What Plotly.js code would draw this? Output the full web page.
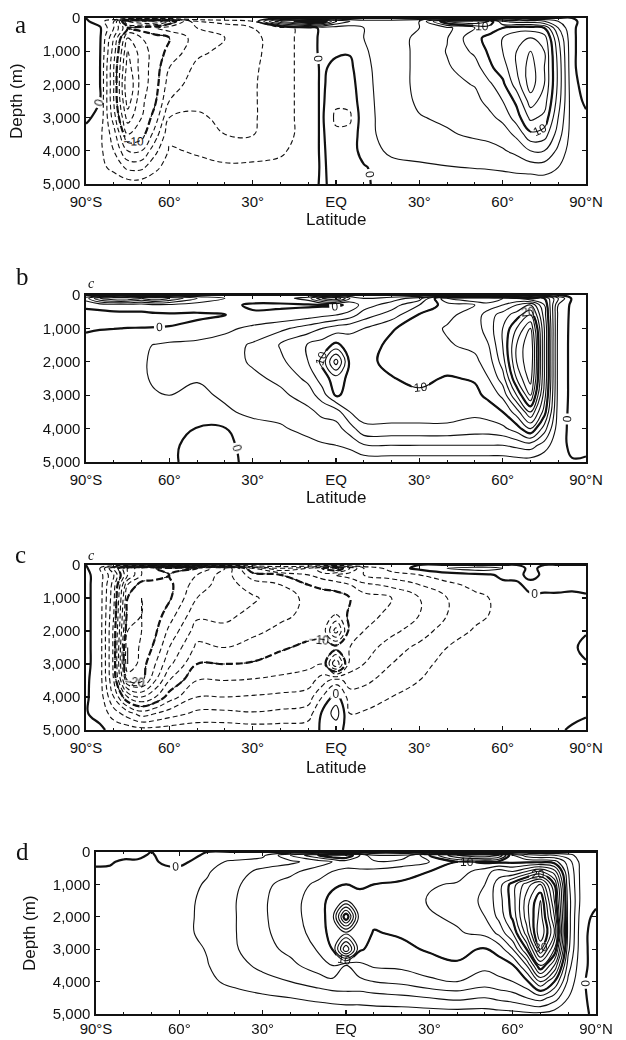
<!DOCTYPE html>
<html><head><meta charset="utf-8">
<script src="https://cdn.plot.ly/plotly-3.0.1.min.js"></script>
<style>
html,body{margin:0;padding:0;background:#fff}
#chart{width:626px;height:1040px}
#chart .contourlabels{opacity:0.99}
#chart .contourlabels text{fill:#111 !important;opacity:0.99}
</style>
</head><body><div id="chart"></div>
<script>
// Axes values
const latitudes = [-90,-85,-80,-75,-70,-65,-60,-50,-40,-30,-20,-10,-5,0,5,10,20,30,40,50,55,60,65,70,75,80,85,90];
const depths = [0,100,300,600,1000,1500,2000,2500,3000,3500,4000,4500,5000];
const latTickVals = [-90,-60,-30,0,30,60,90];
const latTickText = ['90°S','60°','30°','EQ','30°','60°','90°N'];
const depthTickVals = [0,1000,2000,3000,4000,5000];
const depthTickText = ['0','1,000','2,000','3,000','4,000','5,000'];
const panelLetters = ['a','b','c','d'];

// Streamfunction (Sv), one column per latitude, values down the depth list
const psiA = [
 [0,0.3,0.8,0.8,0.8,0.8,0.8,0.6,0.3,-0.5,-0.8,-0.8,-0.3],
 [0,-1,0.3,0.3,0.2,0.1,0.1,0,-0.5,-1.5,-1.5,-1.5,-0.5],
 [0,-4,-4,-6,-7,-8,-8,-8,-7,-5,-4,-2.5,-0.8],
 [0,-14,-10,-14,-16,-17,-18,-17,-15,-12,-8,-4.5,-1],
 [0,-16,-9,-12,-13,-13,-13,-12.5,-12,-11,-8,-4.5,-1],
 [0,-16,-8,-11,-11,-11,-10.8,-10.2,-9,-7,-4.5,-2.5,-0.6],
 [0,-12,-7,-10,-9.5,-8,-7,-6,-4,-2.5,-1.8,-1,-0.3],
 [0,-4,-6,-7,-6.5,-5.5,-5,-4.5,-3.7,-2.5,-2.2,-1.5,-0.4],
 [0,-3,-5.5,-6,-5.5,-5,-4.8,-4.6,-4.4,-4,-2.5,-1.8,-0.4],
 [0,-2,-4,-4.5,-4.5,-4.3,-4.2,-4.2,-4.2,-4.1,-2.6,-1.7,-0.4],
 [0,8,-3,-3,-3,-3,-3,-3,-3,-3,-2.3,-1.5,-0.4],
 [0,12,-1,-1,-1,-1,-1,-1,-1,-1,-1,-0.8,-0.3],
 [0,12,0.5,0.5,0.5,0.3,0.3,0.3,0.3,0.3,0.3,0.2,0.1],
 [0,6,1,0.5,0.3,-0.5,-1,-1.5,-2.5,-1.5,-1,-0.5,-0.2],
 [0,4,1,0.5,0.2,-0.5,-1,-1.5,-2.3,-1.5,-1,-0.8,-0.3],
 [0,3,2,2,1.8,1.6,1.5,1.4,1.3,1.2,0.8,-0.2,-0.1],
 [0,3,3,3,3,3,3,3,3,3,2.5,1.2,0.3],
 [0,4,4,4.5,4.5,4.5,4.5,4.3,3.9,3.5,2.8,1.6,0.4],
 [0,12,5.5,5.9,6.1,5.8,5.5,5,4.3,3.8,3,1.9,0.5],
 [0,14,8,9.5,8.5,7,6.1,5.5,5,4.3,3.2,2.1,0.5],
 [0,12,9,10.5,10.3,9.5,7.5,6.5,5.5,4.5,3.4,2.2,0.6],
 [0,6,10,12,12,11,9.5,8,6.5,5,3.8,2.4,0.6],
 [0,5,11,13.5,14,14,13,10.5,9,6.5,4.5,2.7,0.7],
 [0,5,11,14,16,17,17,15,12.5,9.5,6,3,0.5],
 [0,4,10,13,14,14,14,13,11.5,9,6,3,0.8],
 [0,2,4,6,7,7.5,7.5,7,6,5,3.5,2,0.5],
 [0,0.3,0.3,0.3,0.3,0.3,0.5,0.8,1,1,0.8,0.5,0.2],
 [0,-0.5,-0.8,-0.8,-0.8,-0.8,-0.6,-0.3,0.3,0.5,0.4,0.3,0.1]
];
const psiB = [
 [0,3,0.5,-0.8,-0.1,0.3,0.3,0.3,0.3,0.3,0.3,0.2,0.1],
 [0,8,0.8,-0.8,-0.05,0.5,0.5,0.5,0.5,0.5,0.4,0.3,0.1],
 [0,10,1,-0.6,-0.02,0.8,0.8,0.8,0.8,0.7,0.5,0.3,0.1],
 [0,10,1,-0.5,0.02,1.2,1.2,1.2,1.1,0.9,0.6,0.3,0.1],
 [0,8,1,-0.5,0.03,1.7,1.8,1.8,1.6,1.2,0.8,0.4,0.1],
 [0,10,1.5,-0.4,0.04,2.1,2.3,2.2,1.9,1.4,0.9,0.4,0.1],
 [0,8,1.5,-0.3,0.06,2.4,2.6,2.4,2,1.5,0.9,0.3,0.1],
 [0,4,1,-0.3,0.5,2.6,2.6,2.1,1.7,1.2,-0.1,-0.5,-0.2],
 [0,2,0.5,-0.05,1.5,3,3,2.6,2.2,1.8,-0.1,-0.5,-0.2],
 [0,1,-0.3,0.3,2.5,4.3,4.3,3.5,2.8,2.3,1.5,0.8,0.2],
 [0,1,-0.3,0.5,3.5,6.2,5.5,4.5,3.5,2.5,1.8,1,0.3],
 [0,3,-0.3,1,5,8.2,8,6.5,5,3.5,2.5,1.5,0.4],
 [0,8,-0.3,1.5,6,9,10.5,9,7,4.5,3,1.8,0.5],
 [0,10,-0.3,2,7,10.5,17,11,10.3,5,3.2,2,0.5],
 [0,4,0.3,3,7.5,9,9.5,9.5,9.3,8,5,2.5,0.5],
 [0,2,3,5,8,9,9.5,9.5,9.3,9,7.5,3.8,0.8],
 [0,3,5,7,9.8,10.5,10.5,9.9,9.5,9,7.5,4,0.8],
 [0,5,8,10.2,11,11.5,11.5,10.5,9.6,9,7.5,4,0.8],
 [0,14,11,11.5,12.2,11.8,11,9.8,9.4,9,7.5,4,0.8],
 [0,16,12,13,13,12.5,11.5,10.2,9.5,8.5,7,4,0.8],
 [0,16,13,15,15,14,13,12,10.5,9,7,4,0.8],
 [0,14,14,17,18,18,17,15,12.5,10,7.5,4,0.8],
 [0,12,16,19,22,24,24,22,18,13,9,4.5,1],
 [0,10,18,22,26,28,28,27,24,18,12,5,1],
 [0,10,12,13,14,14,14,14,13,11,7,3,0.5],
 [0,4,2,1.5,1.3,1.2,1.2,1.2,1.2,1,0.8,0.5,0.2],
 [0,-0.3,-0.5,-0.5,-0.5,-0.5,-0.5,-0.5,-0.5,-0.5,-0.5,-0.3,0.1],
 [0,-0.2,-0.3,-0.3,-0.3,-0.3,-0.3,-0.3,-0.3,-0.3,-0.3,-0.2,0.1]
];
const psiC = [
 [0,0.3,0.5,0.5,0.5,0.5,0.5,0.5,0.5,0.3,0.2,0.1,0.5],
 [0,-2,-1,-1,-1,-1,-1,-1,-1,-1,-0.8,-0.5,0.3],
 [0,-8,-6,-7,-7.5,-8,-8.5,-8.5,-8.5,-8,-6,-3,-0.5],
 [0,-14,-14,-18,-20,-21,-22,-24,-24,-20,-12,-5,-0.8],
 [0,-18,-18,-21,-22,-22,-22,-21.5,-21,-20.5,-14,-7,-1.2],
 [0,-20,-19,-21,-21.5,-21,-20.3,-19.5,-18,-16,-12,-6,-1.2],
 [0,-22,-20,-20.5,-20.3,-19,-17.5,-16,-14.5,-12,-9,-5,-1],
 [0,-20,-18,-17,-16,-14.5,-13,-11.5,-10,-8,-6,-3.5,-0.8],
 [0,-16,-15,-15,-15,-14.5,-13.5,-12,-10,-8,-6,-3.5,-0.8],
 [0,-8,-11,-13,-14.3,-13.5,-12.5,-11.2,-9.8,-7.8,-5.8,-3.8,-1],
 [0,-4,-10,-12,-13,-12.5,-11.5,-10.3,-9,-7.5,-5.5,-3.5,-1],
 [0,-6,-8,-10,-11.5,-11.5,-10.8,-9.5,-8.5,-7,-5,-3,-0.8],
 [0,-10,-7,-9.5,-11,-11,-10.5,-9.5,-8,-5,-2,0.3,0.2],
 [0,-12,-6,-9,-11,-12,-17,-9,-16,-3,1,3,0.5],
 [0,-8,-5,-8,-10,-9.5,-9,-8,-7,-5,-3,-2,-0.5],
 [0,-4,-4,-6.5,-9,-8.8,-8,-7,-6,-4.5,-3,-1.8,-0.5],
 [0,-1,-3,-5.5,-8,-7.5,-6.5,-5,-4,-3,-2,-1.5,-0.3],
 [0,0.5,-2,-4,-6,-6,-5,-3.5,-2.5,-2,-1.5,-1,-0.2],
 [0,2,-1,-2.5,-4,-4,-3,-2,-1.5,-1.2,-1,-0.8,-0.2],
 [0,3,-0.5,-1.5,-2.5,-2.5,-1.8,-1.2,-1,-0.8,-0.6,-0.5,-0.1],
 [0,3,-0.3,-1,-2,-2,-1.5,-1,-0.8,-0.6,-0.5,-0.4,-0.1],
 [0,2,0.5,-0.5,-1.5,-1.2,-0.8,-0.6,-0.5,-0.5,-0.4,-0.3,-0.1],
 [0,0.5,0.5,-0.3,-0.8,-0.6,-0.5,-0.4,-0.3,-0.3,-0.3,-0.2,-0.1],
 [0,-0.3,-0.5,0.5,-0.3,-0.3,-0.3,-0.3,-0.2,-0.2,-0.2,-0.2,-0.1],
 [0,0.3,0.3,0.3,-0.2,-0.2,-0.2,-0.2,-0.2,-0.2,-0.2,-0.2,-0.1],
 [0,0.3,0.3,0.3,-0.2,-0.2,-0.2,-0.2,-0.2,-0.2,-0.2,-0.2,-0.1],
 [0,0.2,0.2,0.2,-0.2,-0.2,-0.2,-0.2,-0.2,-0.2,-0.2,-0.2,0.1],
 [0,0.2,0.2,0.2,-0.1,-0.1,-0.1,0.3,-0.1,-0.1,-0.1,-0.1,0.3]
];
const psiD = [
 [0,-0.3,-0.2,0.2,0.2,0.2,0.2,0.2,0.2,0.2,0.2,0.1,0.05],
 [0,-0.5,-0.2,0.3,0.3,0.3,0.3,0.3,0.3,0.3,0.3,0.2,0.1],
 [0,-0.5,0.3,0.5,0.5,0.5,0.5,0.5,0.5,0.5,0.4,0.3,0.1],
 [0,-0.5,0.3,0.6,0.6,0.6,0.6,0.6,0.6,0.6,0.5,0.3,0.1],
 [0,0.3,0.5,0.7,0.8,0.8,0.8,0.8,0.8,0.7,0.6,0.4,0.1],
 [0,-1,-0.5,0.8,1,1,1,1,1,0.9,0.7,0.4,0.1],
 [0,-1.5,-0.8,0.9,1.2,1.3,1.3,1.3,1.2,1.1,0.8,0.5,0.1],
 [0,0.5,1.5,1.8,2.2,2.5,2.6,2.6,2.1,1.9,1.6,0.8,0.2],
 [0,1,2.3,3.2,3.6,3.9,3.9,3.9,3.8,3.3,2.5,1.2,0.3],
 [0,1.5,3,4.5,5.5,5.7,5.7,5.6,5.3,4.5,3.3,1.6,0.4],
 [0,6,3.5,5.5,6.8,7.3,7.3,7,6.5,5.5,4,2,0.5],
 [0,10,5,7,8.5,9,9,8.8,8.2,7,5,2.5,0.6],
 [0,12,6,8,9.5,10.8,11,10.8,10,8,5.5,2.8,0.6],
 [0,12,7,8.5,10,12,22,11.5,20,6,5.5,3,0.7],
 [0,8,6.5,8.5,9.8,10.5,10.8,10.8,10.3,7.5,5.5,3,0.7],
 [0,4,6.5,8.5,10,10.4,10.4,9.9,9.3,8.3,6,3.2,0.8],
 [0,4,7,9,10.4,10.6,10.5,10.2,9.6,8.5,6.5,3.5,0.8],
 [0,10,8,10,11.8,12.2,11.8,11,10.2,9.3,7.5,4,0.9],
 [0,16,10,11,12.2,12.5,12.3,11.8,10.5,9.8,8,4.5,1],
 [0,18,9.5,13,14,14.5,14,12.5,9.8,8.5,7,4,1],
 [0,16,9.5,15,17,17,16.5,14.5,10.8,9,7.5,4.5,1.2],
 [0,8,9.5,14,21,21,20.5,18,14,9.8,8,5,1.3],
 [0,5,9.5,16,25,27,27,25,20,14,9.5,6,1.5],
 [0,4,9.5,18,28,32,33,34,30,22,14,7,1.5],
 [0,4,9,15,20,22,24,26,22,16,10,5,1],
 [0,3,5,6,6.5,7,7,7,6.5,5,3.5,2,0.5],
 [0,0.5,1,1,1,1,0.5,0.2,0.2,0.2,0.1,0.1,0.05],
 [0,0.2,0.3,0.3,0.3,0.3,-0.3,-0.3,-0.3,-0.3,-0.3,-0.2,-0.05]
];

const W = 626, H = 1040;
const panels = [
  {psi: psiA, left: 86, right: 586, top: 18, bottom: 184, latTitle: 219, depthTitle: 17, standoff: 3},
  {psi: psiB, left: 86, right: 586, top: 295, bottom: 462, latTitle: 497, depthTitle: null, standoff: 3},
  {psi: psiC, left: 86, right: 586, top: 565, bottom: 730, latTitle: 767, depthTitle: null, standoff: 3},
  {psi: psiD, left: 96, right: 596, top: 852, bottom: 1014, latTitle: null, depthTitle: 29, standoff: 0}
];
const letterPos = [[20,24],[22,277],[20,554],[22,851]];

function toGrid(cols) { return depths.map((d, r) => cols.map(c => c[r])); }

const INK = '#111111';
const traces = [];
const layout = {
  width: W, height: H, margin: {l:0, r:0, t:0, b:0},
  paper_bgcolor: '#fff', plot_bgcolor: '#fff', showlegend: false,
  font: {family: 'Liberation Sans, Arial, sans-serif', color: '#111'},
  annotations: []
};
const sets = [
  {start: -40, end: -1, size: 2, width: 1.1, dash: '5px,3px', labels: false},
  {start: -30, end: -10, size: 10, width: 2.2, dash: '7px,3px', labels: true},
  {start: 2, end: 40, size: 2, width: 1.1, dash: 'solid', labels: false},
  {start: 0, end: 30, size: 10, width: 2.2, dash: 'solid', labels: true}
];

panels.forEach((p, i) => {
  const n = i === 0 ? '' : String(i + 1);
  const grid = toGrid(p.psi);
  sets.forEach(s => {
    traces.push({
      type: 'contour', x: latitudes, y: depths, z: grid,
      xaxis: 'x' + n, yaxis: 'y' + n,
      autocontour: false, autocolorscale: false,
      colorscale: [[0, INK], [1, INK]],
      contours: {coloring: 'lines', start: s.start, end: s.end, size: s.size,
                 showlabels: s.labels, labelfont: {size: 12, color: '#000000', family: 'Liberation Sans, Arial'}},
      line: {color: INK, width: s.width, dash: s.dash, smoothing: 1.2},
      showscale: false, hoverinfo: 'skip'
    });
  });
  const axisCommon = {showline: true, mirror: 'ticks', linecolor: INK, linewidth: 1.6,
    showgrid: false, zeroline: false, ticks: 'inside', ticklen: 4, tickwidth: 1.2, tickcolor: INK,
    tickfont: {family: 'Liberation Sans, Arial, sans-serif', size: 15, color: '#111'}};
  layout['xaxis' + n] = Object.assign({}, axisCommon, {
    domain: [p.left / W, p.right / W], anchor: 'y' + n, range: [-90, 90],
    tickmode: 'array', tickvals: latTickVals, ticktext: latTickText, ticklabelstandoff: p.standoff,
    minor: {tickmode: 'linear', tick0: -90, dtick: 10, ticks: 'inside', ticklen: 2, tickcolor: INK}
  });
  layout['yaxis' + n] = Object.assign({}, axisCommon, {
    domain: [1 - p.bottom / H, 1 - p.top / H], anchor: 'x' + n, range: [5000, 0],
    tickmode: 'array', tickvals: depthTickVals, ticktext: depthTickText, ticklabelstandoff: 1
  });
  const lp = letterPos[i];
  layout.annotations.push({xref: 'paper', yref: 'paper', x: lp[0] / W, y: 1 - lp[1] / H,
    text: panelLetters[i], showarrow: false, xanchor: 'center', yanchor: 'middle',
    font: {family: 'Liberation Serif, Times New Roman, serif', size: 25, color: '#111'}});
  if (p.latTitle) {
    layout.annotations.push({xref: 'paper', yref: 'paper', x: (p.left + p.right) / 2 / W, y: 1 - p.latTitle / H,
      text: 'Latitude', showarrow: false, xanchor: 'center', yanchor: 'middle',
      font: {size: 17, color: '#111'}});
  }
  if (p.depthTitle) {
    layout.annotations.push({xref: 'paper', yref: 'paper', x: p.depthTitle / W, y: 1 - (p.top + p.bottom) / 2 / H,
      text: 'Depth (m)', textangle: -90, showarrow: false, xanchor: 'center', yanchor: 'middle',
      font: {size: 17, color: '#111'}});
  }
});
// small italic marks next to the surface labels in b and c
[[91, 284], [91, 555]].forEach(pt => {
  layout.annotations.push({xref: 'paper', yref: 'paper', x: pt[0] / W, y: 1 - pt[1] / H,
    text: '<i>c</i>', showarrow: false, xanchor: 'center', yanchor: 'middle',
    font: {family: 'Liberation Serif, serif', size: 14, color: '#111'}});
});

Plotly.newPlot('chart', traces, layout, {staticPlot: true, displayModeBar: false}).then(gd => {
  gd.querySelectorAll('.contourlabels text').forEach(t => { t.style.fill = '#111'; });
});
</script>
</body></html>
